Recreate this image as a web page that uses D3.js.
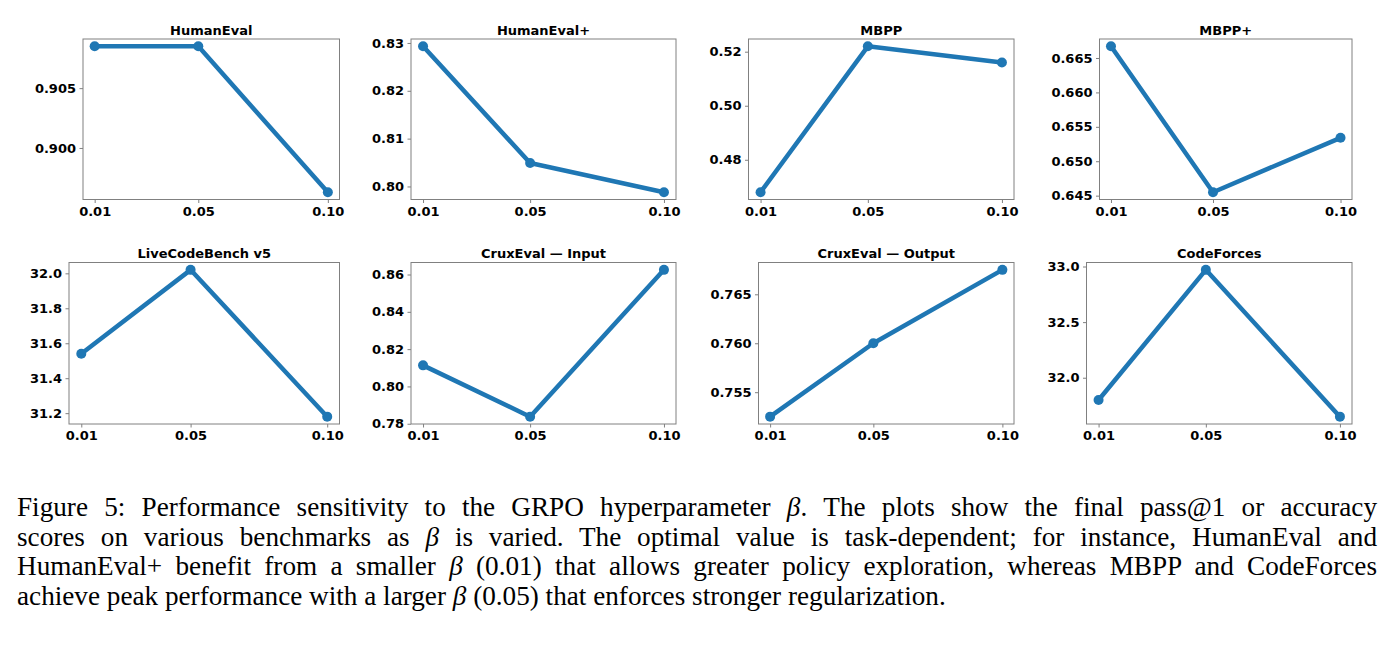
<html lang="en">
<head>
  <meta charset="UTF-8">
  <title>GRPO beta sensitivity</title>
  <script src="https://cdn.jsdelivr.net/npm/d3@7"></script>
  <style>
    body { margin: 0; background: #fff; }
    #wrap { position: relative; width: 1393px; height: 648px; overflow: hidden; }
    svg { position: absolute; left: 0; top: 0; }
    .tick text { font-family: "DejaVu Sans", sans-serif; font-weight: bold; font-size: 13px; fill: #000; }
    .tick line { stroke: #808080; }
    #caption { position: absolute; left: 17px; top: 493px; width: 1360px;
      font-family: "Liberation Serif", "Times New Roman", serif; font-size: 27.2px; color: #000; }
    #caption .ln { height: 29.5px; line-height: 29.5px; white-space: nowrap; }
    #caption .just { text-align: justify; text-align-last: justify; white-space: normal; }
  </style>
</head>
<body>
<div id="wrap">
  <svg width="1393" height="648"></svg>
  <div id="caption"></div>
</div>
<script>
  // valeurs de beta
  const betas = [0.01, 0.05, 0.10];
  const xTickLabels = ["0.01", "0.05", "0.10"];

  const titles = ["HumanEval", "HumanEval+", "MBPP", "MBPP+",
    "LiveCodeBench v5", "CruxEval \u2014 Input", "CruxEval \u2014 Output", "CodeForces"];

  // scores par benchmark
  const humanEval = [0.9085, 0.9085, 0.8963];
  const humanEvalPlus = [0.8293, 0.8049, 0.7988];
  const mbpp = [0.468, 0.522, 0.516];
  const mbppPlus = [0.6667, 0.6455, 0.6534];
  const liveCodeBench = [31.54, 32.02, 31.18];
  const cruxInput = [0.8113, 0.7838, 0.8625];
  const cruxOutput = [0.7525, 0.7600, 0.7675];
  const codeForces = [31.80, 32.97, 31.65];
  const series = [humanEval, humanEvalPlus, mbpp, mbppPlus, liveCodeBench, cruxInput, cruxOutput, codeForces];

  // graduations de l'axe y
  const yTicks = [
    [0.900, 0.905],
    [0.80, 0.81, 0.82, 0.83],
    [0.48, 0.50, 0.52],
    [0.645, 0.650, 0.655, 0.660, 0.665],
    [31.2, 31.4, 31.6, 31.8, 32.0],
    [0.78, 0.80, 0.82, 0.84, 0.86],
    [0.755, 0.760, 0.765],
    [32.0, 32.5, 33.0]
  ];
  const yTickFormats = [".3f", ".2f", ".2f", ".3f", ".1f", ".2f", ".3f", ".1f"];

  // positions des cadres (gauche, droite, haut, bas)
  const boxes = [
    [83, 339.5, 39, 199.5], [411, 676, 39, 199.5], [748.5, 1014, 39, 199.5], [1099.5, 1352, 39, 199.5],
    [69, 339.5, 262.5, 424], [411, 676, 262.5, 424], [758.5, 1014, 262.5, 424], [1086.5, 1352, 262.5, 424]
  ];

  const color = "#1f77b4";
  const svg = d3.select("svg");

  series.forEach((vals, i) => {
    const [l, r, t, b] = boxes[i];
    const g = svg.append("g");

    const xPad = (d3.max(betas) - d3.min(betas)) * 0.05;
    const x = d3.scaleLinear()
      .domain([d3.min(betas) - xPad, d3.max(betas) + xPad])
      .range([l, r]);
    const [ymin, ymax] = d3.extent(vals);
    const yPad = (ymax - ymin) * 0.05;
    const y = d3.scaleLinear()
      .domain([ymin - yPad, ymax + yPad])
      .range([b, t]);

    // axes
    const ax = g.append("g")
      .attr("transform", `translate(0,${b})`)
      .call(d3.axisBottom(x).tickValues(betas).tickFormat((d, k) => xTickLabels[k]).tickSize(3.5).tickSizeOuter(0).tickPadding(3.5));
    ax.select(".domain").remove();
    const ay = g.append("g")
      .attr("transform", `translate(${l},0)`)
      .call(d3.axisLeft(y).tickValues(yTicks[i]).tickFormat(d3.format(yTickFormats[i])).tickSize(3.5).tickSizeOuter(0).tickPadding(3.5));
    ay.select(".domain").remove();
    g.selectAll(".tick text").attr("font-size", null).attr("font-family", null);

    // cadre
    g.append("rect")
      .attr("x", l).attr("y", t)
      .attr("width", r - l).attr("height", b - t)
      .attr("fill", "none")
      .attr("stroke", "#808080")
      .attr("stroke-width", 1);

    // ligne et points
    const line = d3.line().x((d, k) => x(betas[k])).y(d => y(d));
    g.append("path")
      .datum(vals)
      .attr("d", line)
      .attr("fill", "none")
      .attr("stroke", color)
      .attr("stroke-width", 4.5)
      .attr("stroke-linejoin", "round");
    g.selectAll("circle")
      .data(vals)
      .join("circle")
      .attr("cx", (d, k) => x(betas[k]))
      .attr("cy", d => y(d))
      .attr("r", 5)
      .attr("fill", color);

    // titre
    g.append("text")
      .attr("x", (l + r) / 2)
      .attr("y", t - 4.5)
      .attr("text-anchor", "middle")
      .attr("font-family", "DejaVu Sans, sans-serif")
      .attr("font-weight", "bold")
      .attr("font-size", 13)
      .text(titles[i]);
  });

  // légende de la figure
  const captionLines = [
    "Figure 5: Performance sensitivity to the GRPO hyperparameter <i>\u03b2</i>. The plots show the final pass@1 or accuracy",
    "scores on various benchmarks as <i>\u03b2</i> is varied. The optimal value is task-dependent; for instance, HumanEval and",
    "HumanEval+ benefit from a smaller <i>\u03b2</i> (0.01) that allows greater policy exploration, whereas MBPP and CodeForces",
    "achieve peak performance with a larger <i>\u03b2</i> (0.05) that enforces stronger regularization."
  ];
  d3.select("#caption").selectAll("div")
    .data(captionLines)
    .join("div")
    .attr("class", (d, k) => k < captionLines.length - 1 ? "ln just" : "ln")
    .html(d => d);
</script>
</body>
</html>
